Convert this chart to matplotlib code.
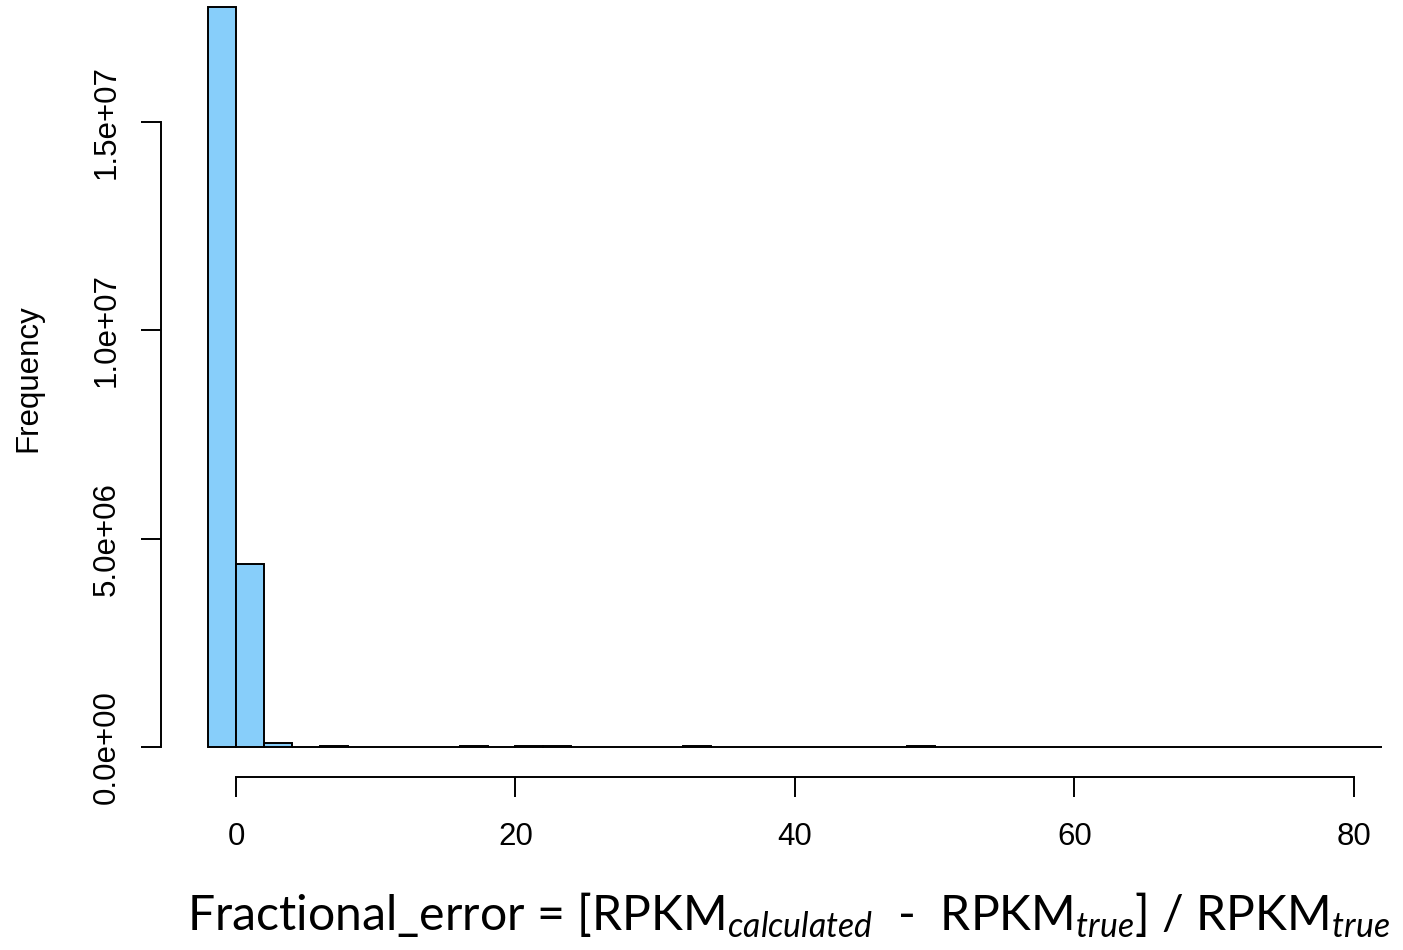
import numpy as np
import matplotlib.pyplot as plt

# histogram bins (width 2) and counts
bin_edges = np.arange(-2, 84, 2)
counts = [17760000, 4390000, 100000, 8000, 30000, 12000, 5000, 4000,
          3000, 20000, 3000, 30000, 25000, 3000, 2000, 5000,
          2000, 15000, 2000, 2000, 3000, 2000, 3000, 2000,
          10000, 20000, 2000, 2000, 2000, 2000, 2000, 2000,
          2000, 2000, 2000, 2000, 2000, 2000, 2000, 2000,
          2000, 10000]
x_ticks = [0, 20, 40, 60, 80]
y_ticks = [0, 5e6, 1e7, 1.5e7]
y_tick_labels = ["0.0e+00", "5.0e+06", "1.0e+07", "1.5e+07"]

plt.rcParams['font.family'] = ['Liberation Sans', 'DejaVu Sans']
plt.rcParams['mathtext.fontset'] = 'custom'
plt.rcParams['mathtext.rm'] = 'Lato'
plt.rcParams['mathtext.it'] = 'Lato:italic'

W, H = 1403, 950
fig = plt.figure(figsize=(W / 100, H / 100), dpi=100)

# R-like plot region: data range padded by 4% on each side
xmin, xmax = -2, 82
ymax = max(counts)
xr = (xmin - 0.04 * (xmax - xmin), xmax + 0.04 * (xmax - xmin))
yr = (-0.04 * ymax, ymax * 1.04)

# pixel layout: x=0 at 236, x=80 at 1354; y=0 at 747, 1.5e7 at 122
px_per_x = (1354 - 236) / 80
px_per_y = (747 - 122) / 1.5e7
left = 236 + (xr[0]) * px_per_x
right = 236 + (xr[1]) * px_per_x
bottom = 747 - yr[0] * px_per_y
top = 747 - yr[1] * px_per_y
ax = fig.add_axes([left / W, 1 - bottom / H, (right - left) / W, (bottom - top) / H])

ax.hist(bin_edges[:-1], bins=bin_edges, weights=counts,
        color='#87CEFA', edgecolor='black', linewidth=1.4)
ax.set_xlim(*xr)
ax.set_ylim(*yr)

for s in ['top', 'right']:
    ax.spines[s].set_visible(False)
ax.spines['left'].set_bounds(0, 1.5e7)
ax.spines['bottom'].set_bounds(0, 80)
ax.spines['left'].set_linewidth(1.4)
ax.spines['bottom'].set_linewidth(1.4)

ax.set_xticks(x_ticks)
ax.set_xticklabels([str(t) for t in x_ticks])
ax.set_yticks(y_ticks)
ax.set_yticklabels(y_tick_labels, rotation=90, va='center')
ax.tick_params(axis='both', length=14.4, width=1.4, labelsize=22.5)
ax.tick_params(axis='x', pad=18)
ax.tick_params(axis='y', pad=14)

fig.text(28 / W, 1 - 378 / H, "Frequency", rotation=90, fontsize=22.5,
         ha='center', va='center')
fig.text(788 / W, 1 - 915 / H,
         r"Fractional_error = [RPKM$_{\mathit{calculated}}$  -  RPKM$_{\mathit{true}}$] / RPKM$_{\mathit{true}}$",
         fontsize=34.7, family='Lato', ha='center', va='center')

fig.savefig("out.png", dpi=100)
plt.close()
